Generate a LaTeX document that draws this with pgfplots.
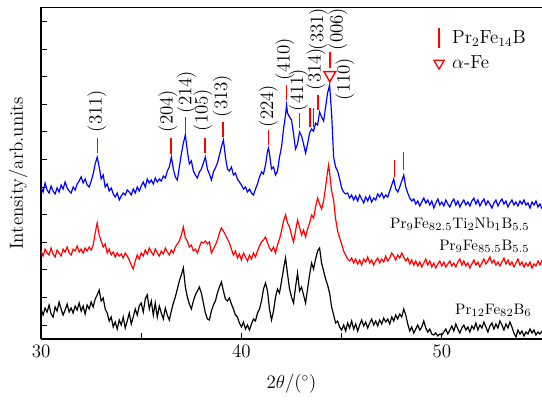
\documentclass[border=0pt]{standalone}
\usepackage{pgfplots}
\usepackage{pgfplotstable}
\pgfplotsset{compat=1.18}

\pgfplotstableread{
x y
30.0 152
30.1 147
30.2 156
30.3 149
30.4 146
30.5 153
30.6 148
30.7 145
30.8 151
30.9 147
31.0 154
31.1 150
31.2 157
31.3 151
31.4 148
31.5 146
31.6 152
31.7 149
31.8 155
31.9 158
32.0 162
32.1 156
32.2 160
32.3 154
32.4 152
32.5 158
32.6 165
32.7 175
32.8 182
32.9 172
33.0 160
33.1 164
33.2 152
33.3 155
33.4 148
33.5 151
33.6 145
33.7 142
33.8 146
33.9 139
34.0 143
34.1 146
34.2 144
34.3 149
34.4 147
34.5 144
34.6 150
34.7 146
34.8 152
34.9 148
35.0 153
35.1 157
35.2 152
35.3 160
35.4 156
35.5 159
35.6 155
35.7 161
35.8 157
35.9 160
36.0 158
36.1 163
36.2 161
36.3 168
36.4 172
36.5 182
36.6 170
36.7 162
36.8 159
36.9 172
37.0 185
37.1 196
37.2 204
37.3 188
37.4 175
37.5 178
37.6 168
37.7 164
37.8 161
37.9 167
38.0 170
38.1 176
38.2 182
38.3 170
38.4 165
38.5 159
38.6 167
38.7 171
38.8 176
38.9 184
39.0 192
39.1 199
39.2 182
39.3 170
39.4 168
39.5 172
39.6 164
39.7 166
39.8 160
39.9 157
40.0 154
40.1 150
40.2 152
40.3 147
40.4 150
40.5 146
40.6 144
40.7 150
40.8 155
40.9 162
41.0 167
41.1 165
41.2 174
41.3 188
41.35 191
41.4 185
41.5 170
41.6 172
41.7 164
41.8 168
41.9 182
42.0 192
42.1 210
42.2 224
42.25 234
42.3 226
42.4 222
42.5 219
42.6 205
42.7 190
42.8 195
42.9 207
43.0 203
43.1 195
43.2 186
43.3 195
43.4 206
43.5 210
43.6 208
43.7 216
43.8 214
43.9 227
44.0 222
44.1 218
44.2 232
44.3 246
44.4 254
44.5 225
44.6 182
44.7 172
44.8 168
44.9 160
45.0 151
45.1 147
45.2 145
45.3 146
45.4 141
45.5 144
45.6 139
45.7 143
45.8 138
45.9 144
46.0 140
46.1 136
46.2 142
46.3 138
46.4 143
46.5 137
46.6 141
46.7 139
46.8 145
46.9 142
47.0 146
47.1 141
47.2 144
47.3 142
47.4 148
47.5 154
47.6 160
47.7 150
47.8 147
47.9 152
48.0 158
48.1 164
48.2 152
48.3 146
48.4 141
48.5 138
48.6 140
48.7 135
48.8 138
48.9 133
49.0 137
49.1 141
49.2 136
49.3 139
49.4 134
49.5 138
49.6 131
49.7 136
49.8 140
49.9 134
50.0 137
50.1 133
50.2 139
50.3 135
50.4 132
50.5 137
50.6 140
50.7 134
50.8 138
50.9 132
51.0 136
51.1 139
51.2 134
51.3 137
51.4 133
51.5 138
51.6 141
51.7 135
51.8 139
51.9 133
52.0 137
52.1 140
52.2 134
52.3 138
52.4 135
52.5 131
52.6 136
52.7 139
52.8 133
52.9 137
53.0 140
53.1 135
53.2 138
53.3 132
53.4 136
53.5 139
53.6 134
53.7 137
53.8 133
53.9 138
54.0 135
54.1 139
54.2 134
54.3 136
54.4 131
54.5 137
54.6 134
54.7 138
54.8 132
54.9 135
55.0 130
}\bluedata

\pgfplotstableread{
x y
30.0 88
30.1 83
30.2 90
30.3 86
30.4 84
30.5 91
30.6 85
30.7 82
30.8 89
30.9 86
31.0 83
31.1 90
31.2 87
31.3 92
31.4 86
31.5 84
31.6 90
31.7 88
31.8 93
31.9 87
32.0 90
32.1 86
32.2 91
32.3 88
32.4 92
32.5 89
32.6 94
32.7 106
32.8 116
32.9 104
33.0 98
33.1 92
33.2 95
33.3 86
33.4 90
33.5 84
33.6 87
33.7 82
33.8 86
33.9 83
34.0 85
34.1 81
34.2 86
34.3 83
34.4 79
34.5 74
34.6 70
34.7 78
34.8 84
34.9 80
35.0 86
35.1 83
35.2 89
35.3 85
35.4 91
35.5 87
35.6 84
35.7 90
35.8 86
35.9 83
36.0 88
36.1 85
36.2 91
36.3 87
36.4 84
36.5 89
36.6 86
36.7 92
36.8 95
36.9 98
37.0 104
37.1 112
37.2 101
37.3 98
37.4 92
37.5 94
37.6 88
37.7 90
37.8 86
37.9 92
38.0 97
38.1 96
38.2 98
38.3 95
38.4 97
38.5 86
38.6 90
38.7 94
38.8 99
38.9 106
39.0 111
39.1 108
39.2 104
39.3 100
39.4 96
39.5 90
39.6 84
39.7 88
39.8 81
39.9 85
40.0 79
40.1 86
40.2 82
40.3 78
40.4 84
40.5 80
40.6 86
40.7 82
40.8 88
40.9 93
41.0 97
41.1 99
41.2 102
41.3 96
41.4 91
41.5 88
41.6 92
41.7 86
41.8 94
41.9 100
42.0 108
42.1 118
42.2 124
42.3 116
42.4 112
42.5 104
42.6 97
42.7 108
42.8 119
42.9 112
43.0 104
43.1 109
43.2 102
43.3 110
43.4 116
43.5 124
43.6 121
43.7 132
43.8 141
43.9 135
44.0 130
44.1 138
44.2 152
44.3 168
44.35 174
44.4 166
44.5 148
44.6 139
44.7 120
44.8 108
44.9 101
45.0 95
45.1 88
45.2 84
45.3 80
45.4 78
45.5 81
45.6 76
45.7 80
45.8 75
45.9 79
46.0 74
46.1 80
46.2 77
46.3 82
46.4 76
46.5 79
46.6 74
46.7 78
46.8 81
46.9 76
47.0 80
47.1 77
47.2 83
47.3 78
47.4 81
47.5 86
47.6 83
47.7 79
47.8 84
47.9 81
48.0 86
48.1 82
48.2 78
48.3 81
48.4 75
48.5 79
48.6 74
48.7 78
48.8 73
48.9 77
49.0 72
49.1 76
49.2 80
49.3 74
49.4 78
49.5 72
49.6 76
49.7 71
49.8 75
49.9 78
50.0 73
50.1 77
50.2 72
50.3 75
50.4 78
50.5 73
50.6 76
50.7 72
50.8 77
50.9 80
51.0 74
51.1 78
51.2 73
51.3 76
51.4 71
51.5 75
51.6 79
51.7 74
51.8 77
51.9 72
52.0 76
52.1 80
52.2 75
52.3 78
52.4 82
52.5 76
52.6 79
52.7 74
52.8 77
52.9 73
53.0 77
53.1 81
53.2 75
53.3 79
53.4 74
53.5 77
53.6 72
53.7 76
53.8 80
53.9 74
54.0 77
54.1 72
54.2 76
54.3 73
54.4 77
54.5 71
54.6 75
54.7 73
54.8 78
54.9 74
55.0 79
}\reddata

\pgfplotstableread{
x y
30.0 30
30.1 24
30.2 31
30.3 27
30.4 34
30.5 25
30.6 22
30.7 32
30.8 28
30.9 37
31.0 30
31.1 24
31.2 29
31.3 35
31.4 27
31.5 31
31.6 26
31.7 33
31.8 29
31.9 36
32.0 28
32.1 33
32.2 25
32.3 34
32.4 30
32.5 37
32.6 32
32.7 40
32.8 44
32.9 49
33.0 38
33.1 41
33.2 30
33.3 26
33.4 18
33.5 22
33.6 12
33.7 17
33.8 10
33.9 19
34.0 14
34.1 22
34.2 11
34.3 18
34.4 26
34.5 15
34.6 22
34.7 30
34.8 24
34.9 33
35.0 36
35.1 27
35.2 40
35.3 44
35.4 30
35.5 38
35.6 24
35.7 36
35.8 22
35.9 33
36.0 26
36.1 20
36.2 31
36.3 24
36.4 19
36.5 28
36.6 36
36.7 42
36.8 50
36.9 58
37.0 64
37.1 71
37.2 52
37.3 42
37.4 35
37.5 30
37.6 38
37.7 44
37.8 48
37.9 52
38.0 46
38.1 36
38.2 26
38.3 20
38.4 19
38.5 28
38.6 34
38.7 38
38.8 46
38.9 52
39.0 57
39.1 48
39.2 40
39.3 38
39.4 41
39.5 35
39.6 30
39.7 24
39.8 22
39.9 16
40.0 12
40.1 17
40.2 10
40.3 14
40.4 9
40.5 15
40.6 20
40.7 18
40.8 26
40.9 30
41.0 38
41.1 50
41.2 56
41.3 48
41.4 30
41.5 19
41.6 28
41.7 42
41.8 50
41.9 46
42.0 58
42.1 70
42.2 81
42.3 65
42.4 50
42.5 42
42.6 36
42.7 52
42.8 66
42.9 48
43.0 52
43.1 44
43.2 36
43.3 50
43.4 64
43.5 76
43.6 70
43.7 80
43.8 88
43.9 91
44.0 76
44.1 68
44.2 60
44.3 54
44.4 46
44.5 32
44.6 24
44.7 16
44.8 18
44.9 12
45.0 9
45.1 14
45.2 8
45.3 16
45.4 11
45.5 18
45.6 10
45.7 15
45.8 8
45.9 14
46.0 19
46.1 13
46.2 17
46.3 11
46.4 16
46.5 20
46.6 14
46.7 18
46.8 13
46.9 19
47.0 15
47.1 21
47.2 17
47.3 20
47.4 15
47.5 22
47.6 18
47.7 24
47.8 20
47.9 25
48.0 22
48.1 30
48.2 24
48.3 15
48.4 8
48.5 12
48.6 6
48.7 10
48.8 14
48.9 9
49.0 12
49.1 18
49.2 11
49.3 7
49.4 10
49.5 5
49.6 4
49.7 6
49.8 3
49.9 5
50.0 4
50.1 7
50.2 10
50.3 5
50.4 9
50.5 13
50.6 8
50.7 15
50.8 10
50.9 6
51.0 11
51.1 14
51.2 9
51.3 12
51.4 7
51.5 13
51.6 10
51.7 16
51.8 9
51.9 14
52.0 11
52.1 17
52.2 12
52.3 7
52.4 13
52.5 16
52.6 10
52.7 15
52.8 11
52.9 18
53.0 14
53.1 9
53.2 15
53.3 11
53.4 17
53.5 12
53.6 6
53.7 2
53.8 9
53.9 5
54.0 8
54.1 3
54.2 7
54.3 5
54.4 10
54.5 6
54.6 9
54.7 4
54.8 7
54.9 5
55.0 8
}\blackdata

\newcommand{\bigf}{\fontsize{12}{14}\selectfont}
\newcommand{\smf}{\fontsize{9.6}{11}\selectfont}

\begin{document}
\begin{tikzpicture}
\begin{axis}[
  name=ax,
  scale only axis,
  width=317pt, height=209.8pt,
  xmin=30, xmax=55, ymin=0, ymax=331.5,
  axis x line*=bottom, axis y line*=left,
  axis line style={-, line width=0.8pt},
  tick align=inside,
  major tick length=3.6pt,
  tick style={line width=0.6pt, black},
  xtick={30,35,40,45,50,55},
  xticklabels={30,,40,,50,},
  ytick={14,41.6,69.2,96.8,124.4,152,179.6,207.2,234.8,262.4,290,317.6},
  yticklabels={},
  tick label style={font=\bigf},
  xlabel={$2\theta/(^{\circ})$},
  ylabel={Intensity/arb.units},
  label style={font=\bigf},
  xlabel style={at={(axis description cs:0.5,-0.136)}, anchor=center},
  ylabel style={at={(axis description cs:-0.046,0.5)}, anchor=center},
  legend style={at={(rel axis cs:0.774,0.950)}, anchor=north west, draw=none, fill=none, row sep=2pt, font=\bigf},
  legend cell align=left,
  clip=false,
]
\addlegendimage{legend image code/.code={\draw[red, line width=0.9pt] (0.3cm,-0.22cm) -- (0.3cm,0.22cm);}}
\addlegendentry{\hspace{3pt}Pr$_2$Fe$_{14}$B}
\addlegendimage{only marks, mark=triangle, mark size=3.8pt, mark options={rotate=180, red, line width=0.8pt}}
\addlegendentry{\hspace{3pt}$\alpha$-Fe}

\addplot[black, line width=0.75pt, forget plot] table {\blackdata};
\addplot[red, line width=0.75pt, forget plot] table {\reddata};
\addplot[blue, line width=0.75pt, forget plot] table {\bluedata};

\addplot[red, line width=0.9pt, unbounded coords=jump, forget plot] coordinates {
 (32.81,186) (32.81,201) (32.81,nan)
 (36.48,185) (36.48,201) (36.48,nan)
 (37.22,206) (37.22,222) (37.22,nan)
 (38.18,186) (38.18,201) (38.18,nan)
 (39.08,202) (39.08,217) (39.08,nan)
 (41.34,194) (41.34,209) (41.34,nan)
 (42.24,239) (42.24,254) (42.24,nan)
 (42.89,211) (42.89,226) (42.89,nan)
 (43.42,212) (43.42,231) (43.42,nan)
 (43.59,212) (43.59,231) (43.59,nan)
 (43.83,229) (43.83,244) (43.83,nan)
 (44.41,271) (44.41,287) (44.41,nan)
 (47.63,162) (47.63,179) (47.63,nan)
 (48.10,169) (48.10,187) (48.10,nan)
};
\addplot[only marks, mark=triangle, mark size=4.3pt, mark options={rotate=180, red, line width=0.9pt}, forget plot] coordinates {(44.41,264)};

\begin{scope}[every node/.style={rotate=90, font=\bigf, inner sep=0pt}]
\node at (axis cs:32.79,228) {(311)};
\node at (axis cs:36.33,228) {(204)};
\node at (axis cs:37.26,247) {(214)};
\node at (axis cs:38.08,229) {(105)};
\node at (axis cs:39.05,243) {(313)};
\node at (axis cs:41.34,233) {(224)};
\node at (axis cs:42.17,280) {(410)};
\node at (axis cs:42.84,249) {(411)};
\node at (axis cs:43.72,270) {(314)};
\node at (axis cs:43.84,310) {(331)};
\node at (axis cs:44.81,310) {(006)};
\node at (axis cs:45.16,260) {(110)};
\end{scope}

\node[anchor=east, font=\smf, inner sep=0pt] at (axis cs:54.39,115) {Pr$_9$Fe$_{82.5}$Ti$_2$Nb$_1$B$_{5.5}$};
\node[anchor=east, font=\smf, inner sep=0pt] at (axis cs:54.39,93) {Pr$_9$Fe$_{85.5}$B$_{5.5}$};
\node[anchor=east, font=\smf, inner sep=0pt] at (axis cs:54.49,29) {Pr$_{12}$Fe$_{82}$B$_6$};

\draw[line width=0.8pt] (rel axis cs:0,1) -- (rel axis cs:1,1);
\end{axis}
\pgfresetboundingbox
\path[use as bounding box] ([shift={(-26pt,-38pt)}]ax.south west) rectangle ([shift={(0pt,4.75pt)}]ax.north east);
\end{tikzpicture}
\end{document}
